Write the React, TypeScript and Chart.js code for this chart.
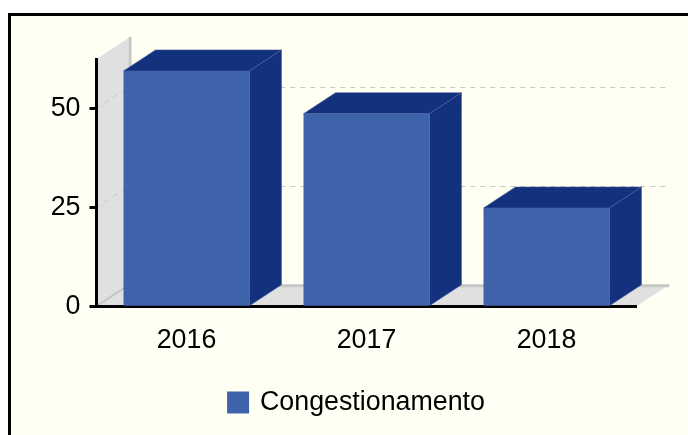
import React, { useEffect, useRef } from "react";
import { Chart, registerables } from "chart.js";

Chart.register(...registerables);

const categories = ["2016", "2017", "2018"];
const seriesName = "Congestionamento";
const seriesValues = [59.4, 48.6, 24.8];
const yTicks = [0, 25, 50];

const FRONT = "#3f63ab";
const DARK = "#14317d";
const WALL = "#e0e0e0";
const EDGE = "#c6c6c6";
const GRID = "#c8c8c0";
const DX = 32;
const DY = 21;

function poly(ctx: CanvasRenderingContext2D, pts: number[][], fill: string, stroke?: string) {
  ctx.beginPath();
  pts.forEach((p, i) => (i ? ctx.lineTo(p[0], p[1]) : ctx.moveTo(p[0], p[1])));
  ctx.closePath();
  ctx.fillStyle = fill;
  ctx.fill();
  if (stroke) {
    ctx.strokeStyle = stroke;
    ctx.lineWidth = 1;
    ctx.stroke();
  }
}

const depthPlugin = {
  id: "depth",
  beforeDraw(chart: any) {
    const { ctx, chartArea: a, scales } = chart;
    const y = scales.y;
    ctx.save();
    poly(ctx, [[a.left, a.top], [a.left + DX, a.top - DY], [a.left + DX, a.bottom - DY], [a.left, a.bottom]], WALL);
    ctx.fillStyle = EDGE;
    ctx.fillRect(a.left + DX, a.top - DY - 1, 3, a.bottom - a.top + 2);
    poly(ctx, [[a.left, a.bottom], [a.left + DX, a.bottom - DY], [a.right + DX, a.bottom - DY], [a.right, a.bottom]], WALL);
    ctx.fillStyle = EDGE;
    ctx.fillRect(a.left + DX, a.bottom - DY - 1, a.right - a.left + 1, 3);
    ctx.beginPath();
    ctx.moveTo(a.left, a.bottom);
    ctx.lineTo(a.left + DX, a.bottom - DY);
    ctx.strokeStyle = EDGE;
    ctx.lineWidth = 2;
    ctx.stroke();
    ctx.setLineDash([5, 5]);
    ctx.lineWidth = 1;
    ctx.strokeStyle = GRID;
    y.ticks.forEach((t: any) => {
      if (t.value === 0) return;
      const py = Math.round(y.getPixelForValue(t.value)) + 0.5;
      ctx.beginPath();
      ctx.moveTo(a.left, py);
      ctx.lineTo(a.left + DX, py - DY);
      ctx.lineTo(a.right + DX, py - DY);
      ctx.stroke();
    });
    ctx.restore();
  },
  beforeDatasetsDraw(chart: any) {
    const { ctx } = chart;
    ctx.save();
    chart.getDatasetMeta(0).data.forEach((b: any) => {
      const l = b.x - b.width / 2;
      const r = b.x + b.width / 2;
      const t = b.y;
      const bt = b.base;
      poly(ctx, [[l, t], [l + DX, t - DY], [r + DX, t - DY], [r, t]], DARK, "rgba(70,95,160,0.55)");
      poly(ctx, [[r, t], [r + DX, t - DY], [r + DX, bt - DY], [r, bt]], DARK, "rgba(70,95,160,0.55)");
    });
    ctx.restore();
  },
};

export default function App() {
  const ref = useRef<HTMLCanvasElement>(null);
  useEffect(() => {
    const font = { family: "'Liberation Sans', Arial, sans-serif", size: 26.8 };
    const chart = new Chart(ref.current as HTMLCanvasElement, {
      type: "bar",
      data: {
        labels: categories,
        datasets: [
          {
            label: seriesName,
            data: seriesValues,
            backgroundColor: FRONT,
            borderWidth: 0,
            categoryPercentage: 0.7,
            barPercentage: 1,
          } as any,
        ],
      },
      options: {
        animation: false,
        responsive: false,
        layout: { padding: { left: 78, right: 51.5, top: 59, bottom: 9 } },
        plugins: {
          title: { display: false },
          tooltip: { enabled: false },
          legend: {
            display: true,
            position: "bottom",
            labels: {
              font,
              color: "#000",
              boxWidth: 17,
              boxHeight: 17,
              padding: 10,
              generateLabels: (c: any) =>
                Chart.defaults.plugins.legend.labels
                  .generateLabels(c)
                  .map((l: any) => ({ ...l, fillStyle: FRONT, strokeStyle: FRONT, lineWidth: 5 })),
            },
          },
        },
        scales: {
          x: {
            grid: { display: false, tickColor: "#000", tickWidth: 2, tickLength: 7, drawOnChartArea: false },
            border: { display: true, color: "#000", width: 3 },
            ticks: { font, color: "#000", padding: 11, maxRotation: 0 },
            afterFit: (s: any) => {
              s.height = 73;
            },
          },
          y: {
            min: 0,
            max: 62.4,
            afterBuildTicks: (s: any) => {
              s.ticks = yTicks.map((value) => ({ value }));
            },
            grid: { display: true, drawOnChartArea: false, drawTicks: true, tickColor: "#000", tickWidth: 3, tickLength: 7 },
            border: { display: true, color: "#000", width: 3 },
            ticks: { font, color: "#000", padding: 9 },
            afterFit: (s: any) => {
              s.width = 18.5;
              s._computeLabelArea = () => undefined;
            },
          },
        },
      } as any,
      plugins: [depthPlugin as any],
    });
    return () => chart.destroy();
  }, []);
  return (
    <div style={{ position: "fixed", left: 0, top: 0, width: 688, height: 435, overflow: "hidden", background: "#fff" }}>
      <div
        style={{
          position: "absolute",
          left: 8,
          top: 13,
          width: 800,
          height: 600,
          boxSizing: "border-box",
          border: "3px solid #000",
          background: "#fffff3",
        }}
      />
      <canvas ref={ref} width={688} height={435} style={{ position: "absolute", left: 0, top: 0, display: "block" }} />
    </div>
  );
}
